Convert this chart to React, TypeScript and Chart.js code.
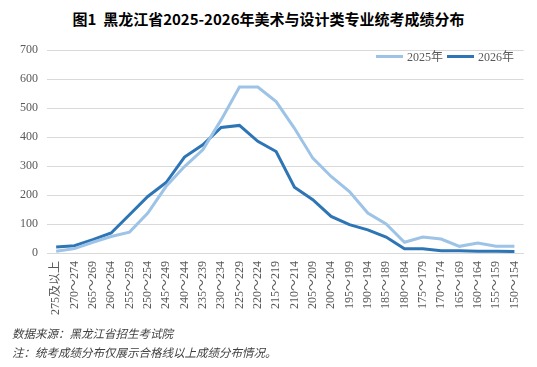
import React, { useEffect, useRef } from "react";
import { Chart, registerables } from "chart.js";

Chart.register(...registerables);

const titleText = "图1  黑龙江省2025-2026年美术与设计类专业统考成绩分布";
const sourceNote = "数据来源：黑龙江省招生考试院";
const footNote = "注：统考成绩分布仅展示合格线以上成绩分布情况。";

const categories = [
  "275及以上", "270～274", "265～269", "260～264", "255～259", "250～254",
  "245～249", "240～244", "235～239", "230～234", "225～229", "220～224",
  "215～219", "210～214", "205～209", "200～204", "195～199", "190～194",
  "185～189", "180～184", "175～179", "170～174", "165～169", "160～164",
  "155～159", "150～154",
];

const series2025 = [6, 15, 37, 57, 72, 138, 230, 298, 356, 459, 572, 572,
  522, 430, 327, 264, 212, 138, 100, 37, 55, 48, 23, 34, 23, 23];
const series2026 = [21, 25, 46, 69, 132, 195, 243, 331, 373, 433, 440, 385,
  350, 227, 184, 126, 98, 80, 55, 15, 15, 8, 8, 6, 6, 5];

const seriesNames = ["2025年", "2026年"];
const seriesColors = ["#9DC3E6", "#2E75B6"];

const yMin = 0;
const yMax = 700;
const yStep = 100;

const W = 537;
const H = 367;

export default function App() {
  const ref = useRef<HTMLCanvasElement | null>(null);

  useEffect(() => {
    if (!ref.current) return;
    const chart = new Chart(ref.current, {
      type: "line",
      data: {
        labels: categories,
        datasets: [
          {
            label: seriesNames[0],
            data: series2025,
            borderColor: seriesColors[0],
            backgroundColor: seriesColors[0],
            borderWidth: 3,
            pointRadius: 0,
            tension: 0,
          },
          {
            label: seriesNames[1],
            data: series2026,
            borderColor: seriesColors[1],
            backgroundColor: seriesColors[1],
            borderWidth: 3,
            pointRadius: 0,
            tension: 0,
          },
        ],
      },
      options: {
        animation: false,
        responsive: false,
        maintainAspectRatio: false,
        layout: { padding: { left: 7, right: 9, top: 50, bottom: 0 } },
        plugins: {
          legend: { display: false },
          tooltip: { enabled: false },
        },
        scales: {
          x: {
            offset: true,
            grid: { display: false, drawTicks: false },
            border: { display: true, color: "#D9D9D9" },
            ticks: {
              minRotation: 90,
              maxRotation: 90,
              autoSkip: false,
              padding: 8,
              color: "#595959",
              font: { family: "'Liberation Serif', 'Noto Sans CJK SC'", size: 12 },
            },
            afterFit: (scale: any) => {
              scale.height = H - 253;
            },
          },
          y: {
            min: yMin,
            max: yMax,
            grid: { color: "#D9D9D9", drawTicks: false, lineWidth: 1 },
            border: { display: false },
            ticks: {
              stepSize: yStep,
              padding: 9,
              color: "#595959",
              font: { family: "'Liberation Serif'", size: 12 },
            },
            afterFit: (scale: any) => {
              scale.width = 40;
            },
          },
        },
      },
    });
    return () => chart.destroy();
  }, []);

  const legendItem = (i: number, left: number) => (
    <div
      key={i}
      style={{
        position: "absolute",
        left,
        top: 47,
        height: 18,
        display: "flex",
        alignItems: "center",
        fontFamily: "'Liberation Serif', 'Noto Sans CJK SC'",
        fontSize: 12,
        color: "#595959",
        whiteSpace: "nowrap",
      }}
    >
      <span
        style={{
          display: "inline-block",
          width: 27,
          height: 3,
          background: seriesColors[i],
          marginRight: 4,
        }}
      />
      <span>{seriesNames[i]}</span>
    </div>
  );

  return (
    <div
      style={{
        position: "absolute",
        left: 0,
        top: 0,
        width: W,
        height: H,
        background: "#ffffff",
        overflow: "hidden",
      }}
    >
      <div
        style={{
          position: "absolute",
          left: 0,
          top: 8,
          width: W,
          textAlign: "center",
          fontFamily: "'Noto Sans CJK SC'",
          fontWeight: 700,
          fontSize: 15,
          color: "#000000",
          whiteSpace: "pre",
          lineHeight: "22px",
        }}
      >
        {titleText}
      </div>
      <canvas
        ref={ref}
        width={W}
        height={H}
        style={{ position: "absolute", left: 0, top: 0, width: W, height: H }}
      />
      {legendItem(0, 376)}
      {legendItem(1, 447)}
      <div
        style={{
          position: "absolute",
          left: 12,
          top: 324,
          fontFamily: "'Noto Sans CJK SC'",
          fontStyle: "italic",
          fontSize: 11.5,
          color: "#404040",
          lineHeight: "19px",
          whiteSpace: "nowrap",
        }}
      >
        <div>{sourceNote}</div>
        <div>{footNote}</div>
      </div>
    </div>
  );
}
